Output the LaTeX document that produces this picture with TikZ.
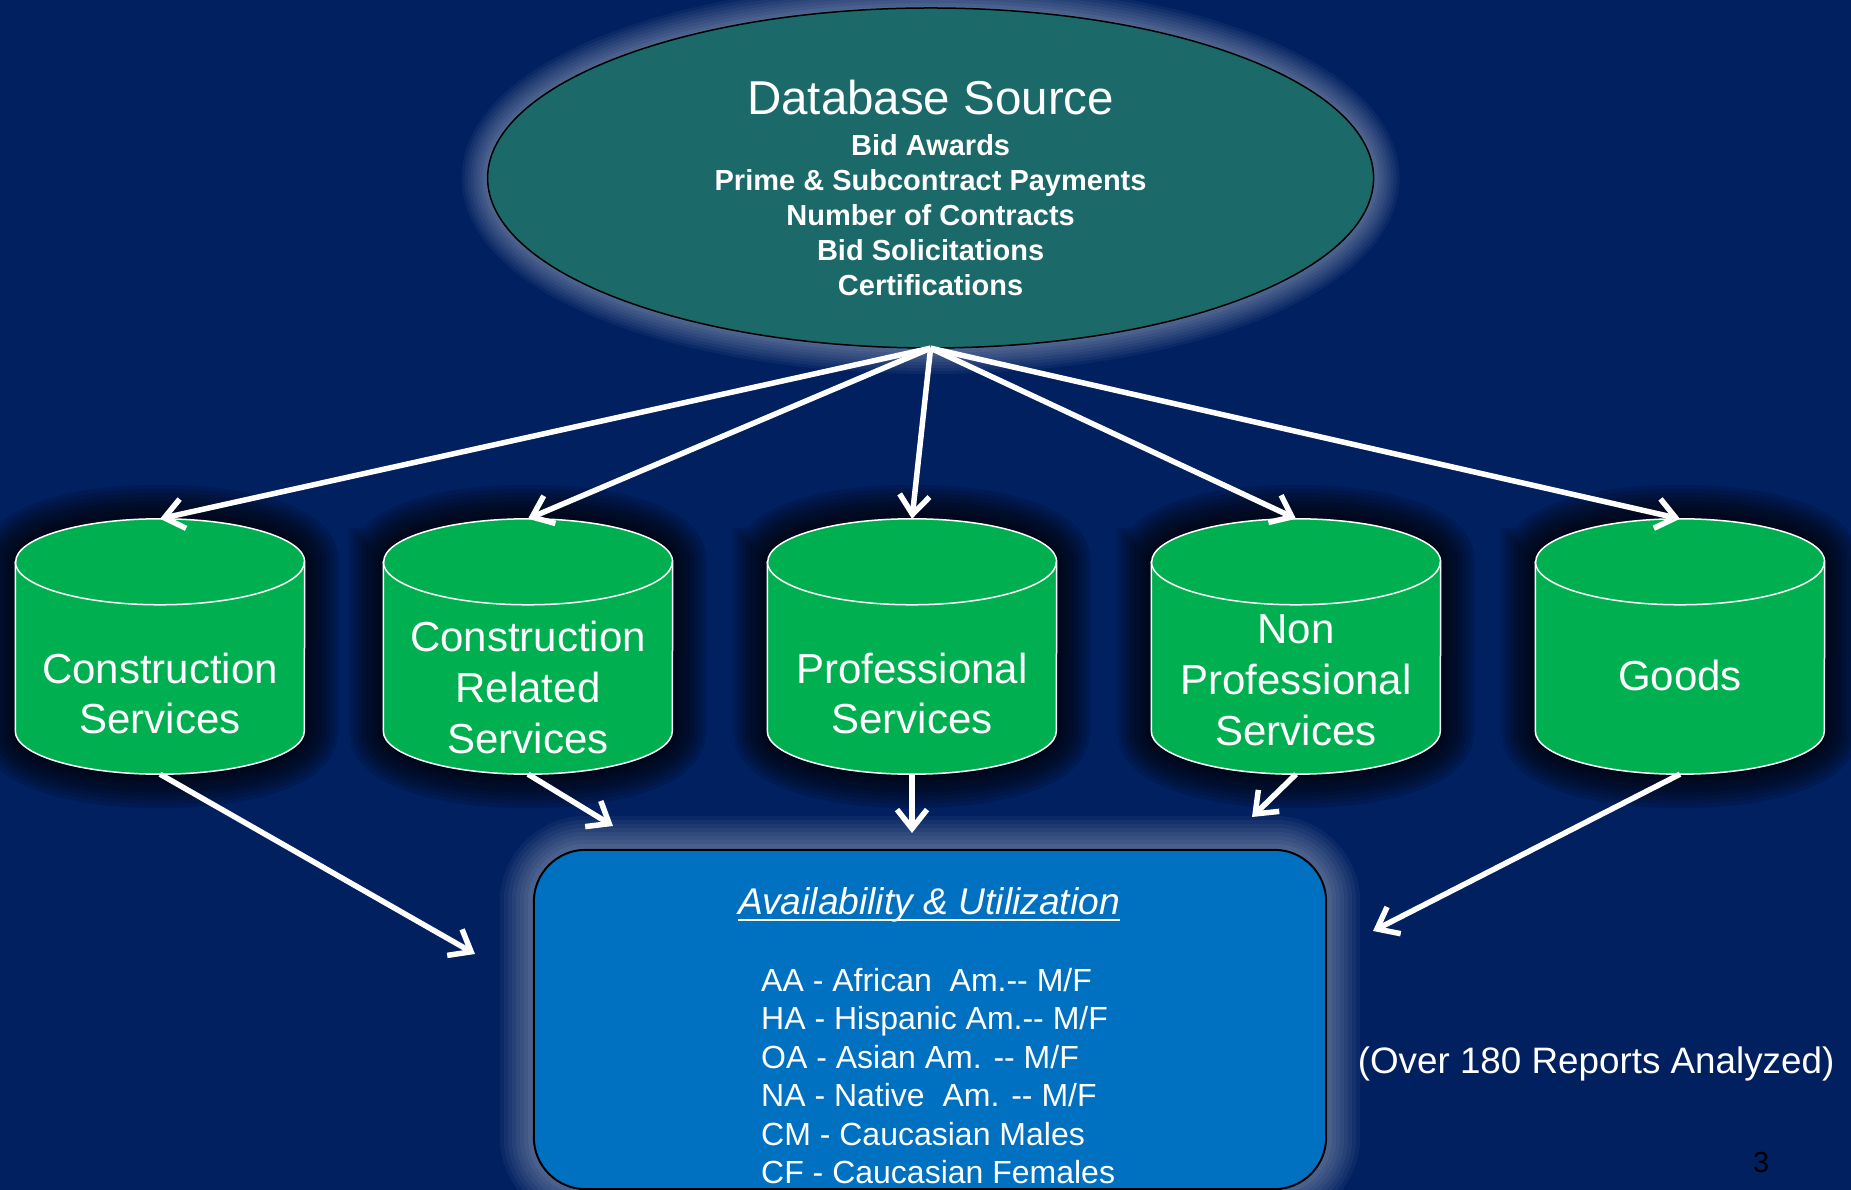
\documentclass[tikz,border=0pt]{standalone}
\usepackage{fontspec}
\newfontfamily\af{Liberation Sans}
\usetikzlibrary{shapes.geometric,arrows.meta}
\definecolor{bgnavy}{RGB}{0,32,96}
\definecolor{dbteal}{RGB}{27,105,104}
\definecolor{cylgreen}{RGB}{0,176,80}
\definecolor{boxblue}{RGB}{0,112,192}
\newcommand\cylpathof[1]{([yshift=-43pt]#1.north west) -- ([yshift=43pt]#1.south west) arc[start angle=180,end angle=360,x radius=144.5pt,y radius=43pt] -- ([yshift=-43pt]#1.north east) arc[start angle=0,end angle=180,x radius=144.5pt,y radius=43pt] -- cycle}
\begin{document}
\begin{tikzpicture}[x=1pt,y=1pt,
  cylbox/.style={rectangle,inner sep=0pt,minimum width=289pt,minimum height=255pt},
  cylbody/.style={fill=cylgreen,draw=white,line width=1.5pt},
  cyltxt/.style={anchor=base,inner sep=0pt,text=white,font=\af\fontsize{42}{50}\selectfont},
  dbline/.style={anchor=base,inner sep=0pt,text=white,font=\af\bfseries\fontsize{29}{35}\selectfont},
  itemtxt/.style={anchor=base west,inner sep=0pt,text=white,font=\af\fontsize{32}{38}\selectfont},
  arr/.style={white,line width=5.5pt,-{Straight Barb[length=19pt,width=30pt]}},
]
% background / page size
\fill[bgnavy] (0,0) rectangle (1851,1190);
\useasboundingbox (0,0) rectangle (1851,1190);

% shape holders
\node[ellipse,inner sep=0pt,minimum width=886pt,minimum height=340pt] (db) at (930.6,1012) {};
\node[rectangle,inner sep=0pt,minimum width=792pt,minimum height=339pt] (au) at (930,170.5) {};
\node[cylbox] (c1) at (160,543.5) {};
\node[cylbox] (c2) at (528,543.5) {};
\node[cylbox] (c3) at (912,543.5) {};
\node[cylbox] (c4) at (1296,543.5) {};
\node[cylbox] (c5) at (1680,543.5) {};

% glows
\foreach \w in {4,10,...,52} {\draw[line width=\w pt,white,opacity=.045] (db.center) ellipse[x radius=443pt,y radius=170pt];}
\foreach \w in {4,12,...,68} {\draw[line width=\w pt,white,opacity=.045,rounded corners=52pt] (au.south west) rectangle (au.north east);}
\foreach \c in {c1,c2,c3,c4,c5} {
  \foreach \w in {4,12,...,68} {\draw[line width=\w pt,black,opacity=.13] \cylpathof{\c};}
}

% shapes
\draw[fill=dbteal,draw=black,line width=1.5pt] (db.center) ellipse[x radius=443pt,y radius=170pt];
\draw[fill=boxblue,draw=black,line width=2pt,rounded corners=52pt] (au.south west) rectangle (au.north east);
\foreach \c in {c1,c2,c3,c4,c5} {
  \path[cylbody] \cylpathof{\c};
  \draw[white,line width=1.5pt] ([yshift=-43pt]\c.north west) arc[start angle=180,end angle=360,x radius=144.5pt,y radius=43pt];
}

% database text
\node[anchor=base,inner sep=0pt,text=white,font=\af\fontsize{47.5}{56}\selectfont] (dbt) at (930.6,1075) {Database Source};
\node[dbline] (db1) at (930.6,1034.6) {Bid Awards};
\node[dbline] (db2) at (930.6,999.6) {Prime \& Subcontract Payments};
\node[dbline] (db3) at (930.6,964.6) {Number of Contracts};
\node[dbline] (db4) at (930.6,929.6) {Bid Solicitations};
\node[dbline] (db5) at (930.6,894.6) {Certifications};

% cylinder text
\node[cyltxt] (t1a) at (160,506) {Construction};
\node[cyltxt] (t1b) at (160,456) {Services};
\node[cyltxt] (t2a) at (528,538) {Construction};
\node[cyltxt] (t2b) at (528,487) {Related};
\node[cyltxt] (t2c) at (528,436) {Services};
\node[cyltxt] (t3a) at (912,506) {Professional};
\node[cyltxt] (t3b) at (912,456) {Services};
\node[cyltxt] (t4a) at (1296,546) {Non};
\node[cyltxt] (t4b) at (1296,495) {Professional};
\node[cyltxt] (t4c) at (1296,444) {Services};
\node[cyltxt] (t5a) at (1680,499) {Goods};

% box text
\node[anchor=base,inner sep=0pt,text=white,font=\af\itshape\fontsize{37.2}{44}\selectfont] (aut) at (929,275.7) {Availability \& Utilization};
\draw[white,line width=2.5pt] ([yshift=-5.5pt]aut.base west) -- ([yshift=-5.5pt]aut.base east);
\node[itemtxt] (i1) at (761,198.5) {AA - African\ \ Am.-\kern0pt- M/F};
\node[itemtxt] (i2) at (761,160.1) {HA - Hispanic Am.-\kern0pt- M/F};
\node[itemtxt] (i3) at (761,121.7) {OA - Asian Am. -\kern0pt- M/F};
\node[itemtxt] (i4) at (761,83.3) {NA - Native\ \ Am. -\kern0pt- M/F};
\node[itemtxt] (i5) at (761,44.9) {CM - Caucasian Males};
\node[itemtxt] (i6) at (761,6.5) {CF - Caucasian Females};

\node[anchor=base west,inner sep=0pt,text=white,font=\af\fontsize{36.8}{44}\selectfont] (note) at (1357.6,116) {(Over 180 Reports Analyzed)};
\node[anchor=base west,inner sep=0pt,text=black,font=\af\fontsize{29}{34}\selectfont] (pg) at (1753,17) {3};

% connectors
\coordinate (e1) at (475,236);
\coordinate (e2) at (613,364);
\coordinate (e3) at (912,357);
\coordinate (e4) at (1252,373);
\coordinate (e5) at (1373,259);
\foreach \c in {c1,c2,c3,c4,c5} {\draw[arr] (db.south) -- (\c.north);}
\draw[arr] (c1.south) -- (e1);
\draw[arr] (c2.south) -- (e2);
\draw[arr] (c3.south) -- (e3);
\draw[arr] (c4.south) -- (e4);
\draw[arr] (c5.south) -- (e5);
\end{tikzpicture}
\end{document}
